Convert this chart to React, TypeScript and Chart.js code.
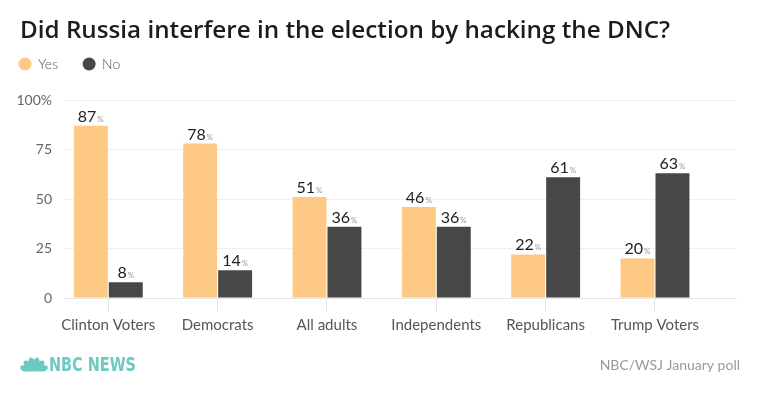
import React, { useEffect, useRef } from "react";
import { Chart, registerables } from "chart.js";

Chart.register(...registerables);

const title = "Did Russia interfere in the election by hacking the DNC?";
const source = "NBC/WSJ January poll";
const categories = ["Clinton Voters", "Democrats", "All adults", "Independents", "Republicans", "Trump Voters"];
const seriesNames = ["Yes", "No"];
const yesValues = [87, 78, 51, 46, 22, 20];
const noValues = [8, 14, 36, 36, 61, 63];
const yTicks = [0, 25, 50, 75, 100];

const FONT = "Lato, 'Open Sans', sans-serif";
const YES_COLOR = "#fec985";
const NO_COLOR = "#474747";

const decorPlugin = {
  id: "decor",
  afterDatasetsDraw(chart: any) {
    const ctx = chart.ctx;
    ctx.save();
    chart.data.datasets.forEach((ds: any, di: number) => {
      const meta = chart.getDatasetMeta(di);
      meta.data.forEach((bar: any, i: number) => {
        const num = String(ds.data[i].y);
        ctx.font = `16px ${FONT}`;
        const w1 = ctx.measureText(num).width;
        ctx.font = `8px ${FONT}`;
        const w2 = ctx.measureText("%").width;
        const x0 = bar.x - (w1 + w2 + 1) / 2;
        const y = bar.y - 4;
        ctx.textAlign = "left";
        ctx.textBaseline = "alphabetic";
        ctx.fillStyle = "#222";
        ctx.font = `16px ${FONT}`;
        ctx.fillText(num, x0, y);
        ctx.fillStyle = "#999";
        ctx.font = `8px ${FONT}`;
        ctx.fillText("%", x0 + w1 + 1, y);
      });
    });
    ctx.restore();
  },
  afterDraw(chart: any) {
    const ctx = chart.ctx;
    ctx.save();
    // title
    ctx.fillStyle = "#1c1c1c";
    ctx.font = `600 24px 'Open Sans', Lato, sans-serif`;
    ctx.textAlign = "left";
    ctx.textBaseline = "alphabetic";
    const tw = ctx.measureText(title).width;
    ctx.save();
    ctx.translate(20, 37.5);
    ctx.scale(650 / tw, 1);
    ctx.fillText(title, 0, 0);
    ctx.restore();
    // legend
    let cx = 25;
    ctx.font = `300 14px ${FONT}`;
    ctx.textBaseline = "middle";
    chart.data.datasets.forEach((ds: any) => {
      ctx.fillStyle = ds.backgroundColor;
      ctx.beginPath();
      ctx.arc(cx, 64, 6.5, 0, Math.PI * 2);
      ctx.fill();
      ctx.fillStyle = "#555";
      const tx = cx + 13;
      ctx.fillText(ds.label, tx, 64);
      cx = tx + ctx.measureText(ds.label).width + 31;
    });
    // source
    ctx.fillStyle = "#999";
    ctx.font = `14px ${FONT}`;
    ctx.textAlign = "right";
    ctx.fillText(source, 740, 365);
    // NBC logo
    const teal = "#6ccac1";
    ctx.fillStyle = teal;
    const bx = 34, by = 371.5;
    for (let k = 0; k < 6; k++) {
      const ang = (-72 + k * 28.8) * Math.PI / 180;
      ctx.save();
      ctx.translate(bx, by);
      ctx.rotate(ang);
      ctx.beginPath();
      ctx.ellipse(0, -7.5, 3.4, 7, 0, 0, Math.PI * 2);
      ctx.fill();
      ctx.restore();
    }
    ctx.fillStyle = "#fff";
    ctx.fillRect(bx - 16, by, 32, 6);
    ctx.fillStyle = teal;
    ctx.font = `bold 19px 'DejaVu Sans', sans-serif`;
    ctx.textAlign = "left";
    ctx.textBaseline = "alphabetic";
    const lt = "NBC NEWS";
    const mw = ctx.measureText(lt).width;
    ctx.save();
    ctx.translate(49, 371);
    ctx.scale(87 / mw, 1);
    ctx.fillText(lt, 0, 0);
    ctx.restore();
    ctx.restore();
  },
};

export default function App() {
  const ref = useRef<HTMLCanvasElement | null>(null);
  useEffect(() => {
    if (!ref.current) return;
    const chart = new Chart(ref.current, {
      type: "bar",
      data: {
        datasets: [
          {
            label: seriesNames[0],
            data: yesValues.map((v, i) => ({ x: i, y: v })),
            backgroundColor: YES_COLOR,
            categoryPercentage: 0.64,
            barPercentage: 0.97,
          },
          {
            label: seriesNames[1],
            data: noValues.map((v, i) => ({ x: i, y: v })),
            backgroundColor: NO_COLOR,
            categoryPercentage: 0.64,
            barPercentage: 0.97,
          },
        ],
      },
      options: {
        animation: false,
        responsive: false,
        devicePixelRatio: 1,
        layout: { padding: { top: 100, right: 24, bottom: 61, left: 0 } },
        plugins: { legend: { display: false }, tooltip: { enabled: false }, title: { display: false } },
        scales: {
          x: {
            type: "linear",
            min: -0.405,
            max: 5.741,
            offset: false,
            afterBuildTicks: (s: any) => {
              s.ticks = categories.map((_, i) => ({ value: i }));
            },
            afterFit: (s: any) => {
              s.height = 40;
            },
            ticks: {
              callback: (v: any) => categories[v] ?? "",
              autoSkip: false,
              maxRotation: 0,
              font: { size: 15, family: FONT },
              color: "#555",
              padding: 4,
            },
            grid: { drawOnChartArea: false, drawTicks: true, tickLength: 14, color: "#e6e6e6", offset: false },
            border: { display: true, color: "#e6e6e6" },
          },
          y: {
            min: 0,
            max: 100,
            afterBuildTicks: (s: any) => {
              s.ticks = yTicks.map((v) => ({ value: v }));
            },
            afterFit: (s: any) => {
              s.width = 64;
            },
            ticks: {
              callback: (v: any) => (v === 100 ? "100%" : String(v)),
              font: { size: 14, family: FONT },
              color: "#666",
              padding: 12,
            },
            grid: { color: "#eeeeee", drawTicks: false },
            border: { display: false },
          },
        },
      },
      plugins: [decorPlugin],
    } as any);
    return () => chart.destroy();
  }, []);
  return (
    <div style={{ position: "fixed", left: 0, top: 0, width: 760, height: 399, background: "#fff" }}>
      <canvas ref={ref} width={760} height={399} style={{ width: 760, height: 399, display: "block" }} />
    </div>
  );
}
